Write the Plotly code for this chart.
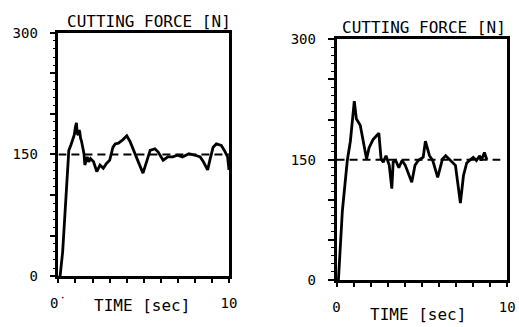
import plotly.graph_objects as go

W, H = 519, 327

# Cutting force traces (time in s, force in N)
t_a = [0.0, 0.1, 0.25, 0.36, 0.49, 0.61, 0.74, 0.93, 1.0, 1.06, 1.1, 1.16, 1.21, 1.25, 1.3, 1.36, 1.5, 1.55,
       1.69, 1.78, 1.88, 2.06, 2.25, 2.44, 2.63, 2.82, 3.01, 3.2, 3.33, 3.52, 3.77, 4.01, 4.2,
       4.43, 4.72, 4.96, 5.19, 5.38, 5.66, 5.85, 6.14, 6.42, 6.7, 6.99, 7.27, 7.65, 8.03,
       8.31, 8.5, 8.75, 8.88, 9.07, 9.26, 9.55, 9.73, 9.92, 10.0]
f_a = [0, 0, 30, 72, 123, 155, 162, 174, 184, 189, 176, 174, 180, 178, 170, 166, 151, 137,
       147, 141, 145, 141, 129, 137, 133, 139, 143, 159, 163, 164, 168, 173, 166,
       155, 139, 127, 143, 155, 157, 153, 143, 147, 147, 149, 147, 151, 149,
       147, 141, 131, 143, 159, 163, 161, 155, 147, 131]

t_b = [0.11, 0.34, 0.63, 0.81, 1.04, 1.16, 1.39, 1.57, 1.76, 1.91, 2.14, 2.48, 2.61, 2.74,
       2.9, 3.09, 3.24, 3.32, 3.47, 3.65, 3.84, 4.03, 4.41, 4.6, 4.79, 5.08, 5.21, 5.45,
       5.64, 5.93, 6.21, 6.4, 6.69, 6.97, 7.26, 7.44, 7.63, 7.82, 8.01, 8.2, 8.39, 8.48,
       8.67, 8.81]
f_b = [0, 86, 149, 173, 223, 201, 193, 173, 151, 165, 175, 183, 151, 147,
       155, 143, 114, 147, 149, 140, 149, 143, 122, 143, 149, 153, 173, 155,
       149, 128, 151, 155, 149, 143, 96, 130, 146, 149, 153, 149, 155, 149,
       159, 150]

reference_force = 150
ref_span_a = [0, 10]
ref_span_b = [0, 9.6]

y_tick_vals = [0, 150, 300]
x_tick_vals = [0, 10]
panel_title = "CUTTING FORCE [N]"
x_title = "TIME [sec]"

FONT = "DejaVu Sans Mono"

fig = go.Figure()

panels = [
    dict(t=t_a, f=f_a, span=ref_span_a, xa="x", ya="y",
         xd=[52 / W, 228 / W], yd=[1 - 282 / H, 1 - 26 / H],
         xlab0="0\u02d9"),
    dict(t=t_b, f=f_b, span=ref_span_b, xa="x2", ya="y2",
         xd=[339 / W, 515 / W], yd=[1 - 286 / H, 1 - 33 / H],
         xlab0="0"),
]

for i, p in enumerate(panels):
    fig.add_trace(go.Scatter(
        x=p["span"], y=[reference_force, reference_force], mode="lines",
        line=dict(color="black", width=2, dash="8px,5px"),
        xaxis=p["xa"], yaxis=p["ya"], showlegend=False, hoverinfo="skip"))
    fig.add_trace(go.Scatter(
        x=p["t"], y=p["f"], mode="lines",
        line=dict(color="black", width=2.8),
        xaxis=p["xa"], yaxis=p["ya"], showlegend=False))

    sfx = "" if i == 0 else str(i + 1)
    all_x = list(range(0, 11))
    xtext = [p["xlab0"] if v == 0 else ("10" if v == x_tick_vals[-1] else "") for v in all_x]
    # hide labels on the 50 N major ticks, keep 0 / 150 / 300
    y_alias = {str(v): " " for v in range(0, 301, 50) if v not in y_tick_vals}

    fig.update_layout(**{
        "xaxis" + sfx: dict(
            domain=p["xd"], range=[0, 10], anchor="y" + sfx,
            showgrid=False, zeroline=False, showline=True, mirror=True,
            linecolor="black", linewidth=2.5,
            ticks="outside", ticklen=4, tickwidth=1.8, tickcolor="black",
            tickvals=all_x, ticktext=xtext,
            tickfont=dict(family=FONT, size=14, color="black"),
            ticklabelstandoff=8,
        ),
        "yaxis" + sfx: dict(
            domain=p["yd"], range=[0, 300], anchor="x" + sfx,
            showgrid=False, zeroline=False, showline=True, mirror=True,
            linecolor="black", linewidth=2.5,
            ticks="outside", ticklen=6, tickwidth=1.5, tickcolor="black",
            tickmode="linear", tick0=0, dtick=50, labelalias=y_alias,
            minor=dict(tickmode="linear", dtick=10, ticks="outside", ticklen=3,
                       tickwidth=1.3, tickcolor="black", showgrid=False),
            tickfont=dict(family=FONT, size=14, color="black"),
            ticklabelstandoff=9,
        ),
    })

annotations = [
    dict(text=panel_title, x=145 / W, y=1 - 14 / H),
    dict(text=panel_title, x=429 / W, y=1 - 20 / H),
    dict(text=x_title, x=138 / W, y=1 - 313 / H),
    dict(text=x_title, x=423 / W, y=1 - 322 / H),
]
for a in annotations:
    fig.add_annotation(xref="paper", yref="paper", showarrow=False,
                       xanchor="center", yanchor="middle",
                       font=dict(family=FONT, size=16, color="black"), **a)

fig.update_layout(
    width=W, height=H, margin=dict(l=0, r=0, t=0, b=0),
    paper_bgcolor="white", plot_bgcolor="white",
)

fig.write_html("out.html")
